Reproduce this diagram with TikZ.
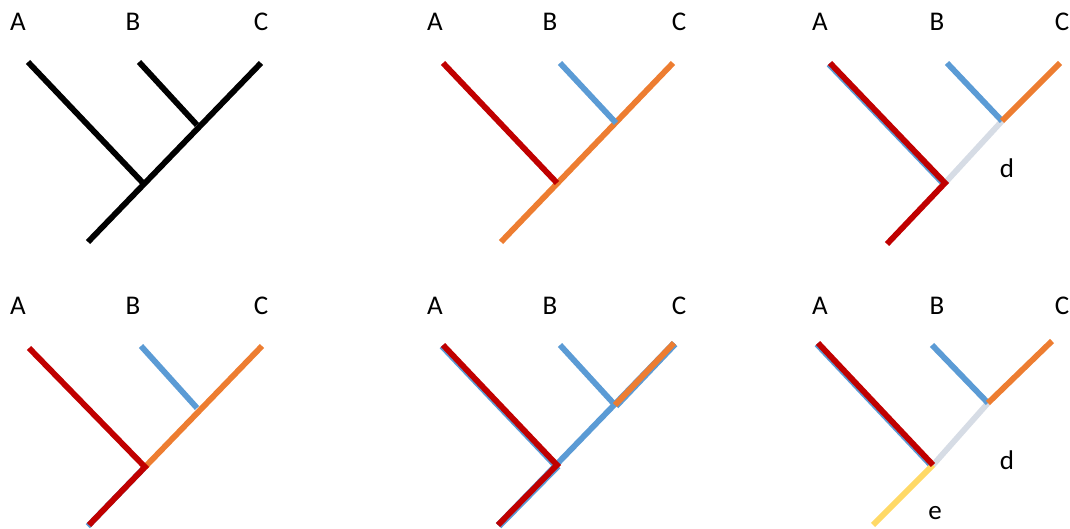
\documentclass[tikz,border=0pt]{standalone}
\usepackage{fontspec}
\setmainfont{Carlito}
\definecolor{cRed}{HTML}{C00000}
\definecolor{cBlue}{HTML}{5B9BD5}
\definecolor{cOrange}{HTML}{ED7D31}
\definecolor{cGrey}{HTML}{D6DCE5}
\definecolor{cYellow}{HTML}{FFD966}
\begin{document}
\begin{tikzpicture}[x=1pt, y=-1pt,
    br/.style={line width=5.8pt, draw=#1},
    underL/.style={br=cBlue, transform canvas={shift={(-1.2,1.2)}}},
    underR/.style={br=cBlue, transform canvas={shift={(1.2,1.2)}}},
    lbl/.style={font=\fontsize{27}{27}\selectfont, inner sep=0pt}]
    \useasboundingbox (0,0) rectangle (1070,529);

    % taxon labels
    \foreach \p/\xa/\xb/\xc/\y in {1/18/133/261/22, 2/435/550/679/22, 3/820/937/1062/22,
                                   4/18/133/261/306, 5/435/550/679/306, 6/820/937/1062/306} {
        \node[lbl] (A\p) at (\xa,\y) {A};
        \node[lbl] (B\p) at (\xb,\y) {B};
        \node[lbl] (C\p) at (\xc,\y) {C};
    }

    % tree 1: plain
    \coordinate (a1) at (28,62);   \coordinate (b1) at (139,62);  \coordinate (c1) at (261,63);
    \coordinate (jb1) at (197,125); \coordinate (ja1) at (143,183); \coordinate (r1) at (88,242);
    \draw[br=black] (a1) -- (ja1);
    \draw[br=black] (b1) -- (jb1);
    \draw[br=black] (c1) -- (r1);

    % tree 2
    \coordinate (a2) at (443,63);  \coordinate (b2) at (560,63);  \coordinate (c2) at (673,63);
    \coordinate (jb2) at (616,123); \coordinate (ja2) at (557,183); \coordinate (r2) at (501,242);
    \draw[br=cOrange] (c2) -- (r2);
    \draw[br=cBlue] (b2) -- (jb2);
    \draw[br=cRed] (a2) -- (ja2);

    % tree 3: branch d
    \coordinate (a3) at (830,63);  \coordinate (b3) at (947,63);  \coordinate (c3) at (1060,63);
    \coordinate (jb3) at (1002,121); \coordinate (ja3) at (945,183); \coordinate (r3) at (887,244);
    \draw[underL] (a3) -- (ja3);
    \draw[br=cGrey] (ja3) -- (jb3);
    \draw[br=cBlue] (b3) -- (jb3);
    \draw[br=cOrange] (jb3) -- (c3);
    \draw[br=cRed] (a3) -- (ja3) -- (r3);
    \node[lbl] (d3) at (1007,168) {d};

    % tree 4
    \coordinate (a4) at (29,348);  \coordinate (b4) at (141,346); \coordinate (c4) at (262,346);
    \coordinate (jb4) at (197,408); \coordinate (ja4) at (145,467); \coordinate (r4) at (89,525);
    \draw[br=cBlue] (b4) -- (jb4);
    \draw[br=cOrange] (ja4) -- (c4);
    \draw[underL] (ja4) -- (r4);
    \draw[br=cRed] (a4) -- (ja4) -- (r4);

    % tree 5
    \coordinate (a5) at (443,345); \coordinate (b5) at (560,345); \coordinate (c5) at (674,343);
    \coordinate (jb5) at (615,405); \coordinate (ja5) at (557,465); \coordinate (r5) at (498,525);
    \draw[underL] (a5) -- (ja5);
    \draw[underR] (ja5) -- (r5);
    \draw[underR] (jb5) -- (c5);
    \draw[br=cBlue] (r5) -- (c5);
    \draw[br=cBlue] (b5) -- (jb5);
    \draw[br=cOrange] (jb5) -- (c5);
    \draw[br=cRed] (a5) -- (ja5) -- (r5);

    % tree 6: branches d and e
    \coordinate (a6) at (818,343); \coordinate (b6) at (932,345); \coordinate (c6) at (1052,341);
    \coordinate (jb6) at (988,403); \coordinate (ja6) at (933,465); \coordinate (r6) at (873,525);
    \draw[underL] (a6) -- (ja6);
    \draw[br=cGrey] (ja6) -- (jb6);
    \draw[br=cYellow] (ja6) -- (r6);
    \draw[br=cBlue] (b6) -- (jb6);
    \draw[br=cOrange] (jb6) -- (c6);
    \draw[br=cRed] (a6) -- (ja6);
    \node[lbl] (d6) at (1007,460) {d};
    \node[lbl] (e6) at (935,513) {e};
\end{tikzpicture}
\end{document}
